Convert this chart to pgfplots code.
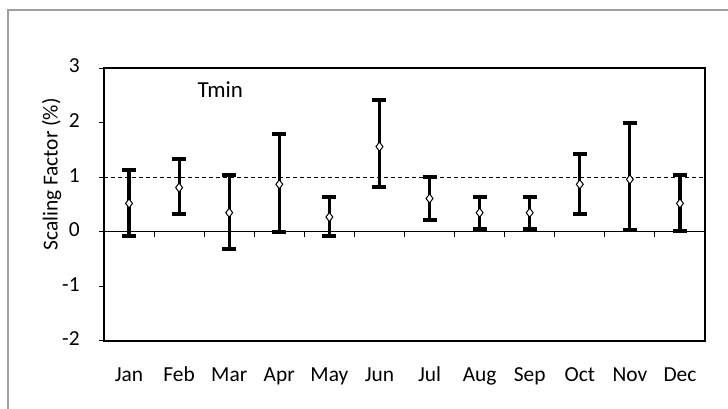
\documentclass[border=0pt]{standalone}
\usepackage{pgfplots}
\usepackage{pgfplotstable}
\usepackage{fontspec}
\setmainfont{Carlito}
\pgfplotsset{compat=1.18}

% month, centre value, upper and lower end of the bar
\pgfplotstableread{
m  y     hi    lo
1  0.52  1.13  -0.07
2  0.81  1.33  0.32
3  0.35  1.04  -0.32
4  0.87  1.79  0.00
5  0.27  0.64  -0.07
6  1.56  2.42  0.82
7  0.61  1.01  0.21
8  0.35  0.64  0.06
9  0.35  0.64  0.06
10 0.87  1.42  0.32
11 0.96  1.99  0.04
12 0.52  1.04  0.01
}\tmin

\begin{document}
\fontsize{21.5}{25}\selectfont
\begin{tikzpicture}
\useasboundingbox (0,0) rectangle (728bp,409bp);
\draw[gray!75, line width=1.6bp] (8bp,-2bp) -- (8bp,399bp) -- (730bp,399bp);
\begin{axis}[
  at={(104bp,68bp)}, anchor=south west,
  scale only axis, width=601bp, height=273bp,
  axis line style={line width=1.2bp},
  xmin=0.5, xmax=12.5, ymin=-2, ymax=3,
  ytick={-2,-1,0,1,2,3},
  xtick={1,...,12},
  xticklabels={Jan,Feb,Mar,Apr,May,Jun,Jul,Aug,Sep,Oct,Nov,Dec},
  x tick style={draw=none},
  y tick style={line width=1bp, black},
  tick align=outside, major tick length=5bp,
  ytick pos=left,
  typeset ticklabels with strut,
  xticklabel style={yshift=-11bp},
  yticklabel style={xshift=-12bp},
  /pgf/number format/assume math mode=true,
  ylabel={Scaling Factor (\%)},
  ylabel style={at={(axis description cs:-0.087,0.61)}, anchor=center, font=\fontsize{21.5}{24}\selectfont},
  clip=false,
]
\draw[line width=1.2bp] (axis cs:0.5,0) -- (axis cs:12.5,0);
\pgfplotsinvokeforeach{1.5,2.5,3.5,4.5,5.5,6.5,7.5,8.5,9.5,10.5,11.5}{
  \draw[line width=1bp] (axis cs:#1,0) -- (axis cs:#1,-0.09);
}
\draw[line width=0.8bp, dash pattern=on 4bp off 3bp] (axis cs:0.5,1) -- (axis cs:12.5,1);
\addplot[
  only marks, mark=diamond*, mark size=4.6bp,
  mark options={fill=white, draw=black, line width=1bp},
  error bars/.cd, y dir=both, y explicit,
  error mark=|,
  error bar style={line width=3.2bp, black},
  error mark options={mark size=7bp, line width=4bp, black},
] table[
  x=m, y=y,
  y error plus expr=\thisrow{hi}-\thisrow{y},
  y error minus expr=\thisrow{y}-\thisrow{lo},
] {\tmin};
\node[font=\fontsize{23}{26}\selectfont] at (axis cs:2.82,2.61) {Tmin};
\end{axis}
\end{tikzpicture}
\end{document}
